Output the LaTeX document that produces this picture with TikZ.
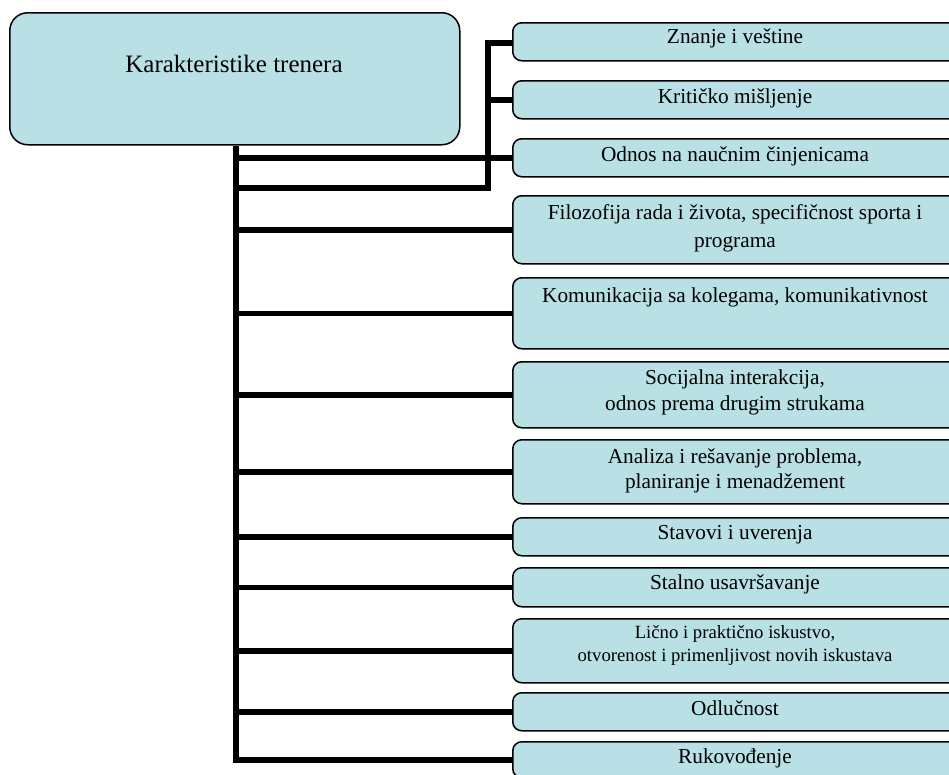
\documentclass[tikz,border=0pt]{standalone}
\usepackage{fontspec}
\setmainfont{Liberation Serif}
\usetikzlibrary{backgrounds}
\definecolor{boxblue}{RGB}{185,224,228}
\begin{document}
\begin{tikzpicture}[x=1pt,y=-1pt,
  box/.style={draw=black, line width=1.5pt, fill=boxblue, rounded corners=9pt,
    minimum width=446pt, inner sep=0pt, anchor=north west},
  mainbox/.style={draw=black, line width=1.5pt, fill=boxblue, rounded corners=18pt,
    inner sep=0pt, minimum width=450pt, minimum height=132pt, anchor=north west},
  lbl/.style={font=\fontsize{21.3}{26}\selectfont, align=center, anchor=base, inner sep=0pt},
  smalllbl/.style={font=\fontsize{18.7}{23}\selectfont, align=center, anchor=base, inner sep=0pt},
  conn/.style={line width=5.5pt, line join=miter, line cap=butt}]
\useasboundingbox (0,0) rectangle (949,774);
\clip (0,0) rectangle (949,774);
% main box
\node[mainbox] (main) at (9,12) {};
\node[font=\fontsize{25}{30}\selectfont, anchor=base, inner sep=0pt] (tm) at (234,72) {Karakteristike trenera};
% right boxes
\node[box, minimum height=38pt] (b1) at (512,22) {};
\node[box, minimum height=38pt] (b2) at (512,80) {};
\node[box, minimum height=38pt] (b3) at (512,138) {};
\node[box, minimum height=68pt] (b4) at (512,195) {};
\node[box, minimum height=71pt] (b5) at (512,277) {};
\node[box, minimum height=66pt] (b6) at (512,361) {};
\node[box, minimum height=64pt] (b7) at (512,439) {};
\node[box, minimum height=38pt] (b8) at (512,517) {};
\node[box, minimum height=39pt] (b9) at (512,567) {};
\node[box, minimum height=64pt] (b10) at (512,618) {};
\node[box, minimum height=38pt] (b11) at (512,692) {};
\node[box, minimum height=36pt] (b12) at (512,741) {};
% texts (multi-line nodes: base = last line)
\node[lbl] (t1) at (735,43) {Znanje i veštine};
\node[lbl] (t2) at (735,103) {Kritičko mišljenje};
\node[lbl] (t3) at (735,161) {Odnos na naučnim činjenicama};
\node[lbl, font=\fontsize{21.3}{28}\selectfont] (t4) at (735,247) {Filozofija rada i života, specifičnost sporta i\\programa};
\node[lbl] (t5) at (735,302) {Komunikacija sa kolegama, komunikativnost};
\node[lbl] (t6) at (735,410) {Socijalna interakcija,\\odnos prema drugim strukama};
\node[lbl, font=\fontsize{21.3}{25}\selectfont] (t7) at (735,488) {Analiza i rešavanje problema,\\planiranje i menadžement};
\node[lbl] (t8) at (735,539) {Stavovi i uverenja};
\node[lbl] (t9) at (735,589) {Stalno usavršavanje};
\node[smalllbl] (t10) at (735,661) {Lično i praktično iskustvo,\\otvorenost i primenljivost novih iskustava};
\node[lbl] (t11) at (735,715) {Odlučnost};
\node[lbl] (t12) at (735,763) {Rukovođenje};
% connectors
\coordinate (j) at (488,188);
\begin{scope}[on background layer]
\draw[conn] ([xshift=1pt]main.south) |- (b12.west);
\foreach \b in {b3,b4,b5,b6,b7,b8,b9,b10,b11}{
  \draw[conn] ([xshift=1pt]main.south |- \b.west) -- (\b.west);
}
\draw[conn] ([xshift=1pt]main.south |- j) -- (j) |- ([yshift=-1pt]b1.west);
\draw[conn] (j |- b2.west) -- (b2.west);
\end{scope}
\end{tikzpicture}
\end{document}
